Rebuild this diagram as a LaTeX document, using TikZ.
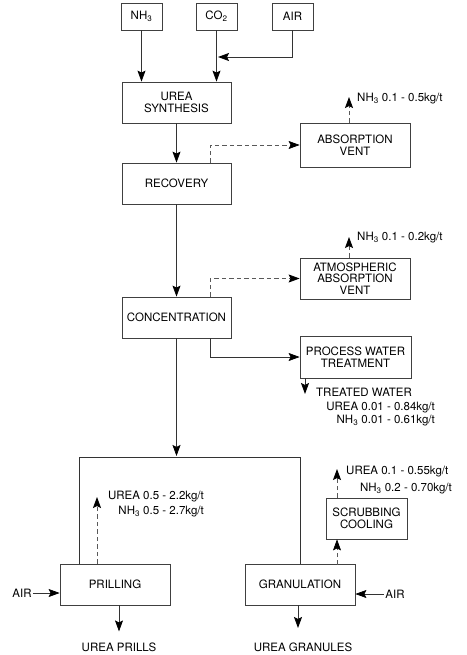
\documentclass[tikz,border=0pt]{standalone}
\usepackage{fontspec}
\setmainfont{TeX Gyre Heros}
\usetikzlibrary{arrows.meta}

\begin{document}
\begin{tikzpicture}[x=1pt, y=-1pt,
        font=\fontsize{11.5}{11.5}\selectfont,
        line/.style={draw=black!80, line width=0.75pt},
        flow/.style={line, -{Stealth[length=11pt, width=8pt, inset=2pt, black]}},
        vent/.style={flow, draw=black!65, dash pattern=on 4.5pt off 3pt},
        unit/.style={draw=black!75, line width=0.75pt, align=center, inner sep=0pt,
            minimum width=109pt, minimum height=41pt},
        feed/.style={unit, minimum width=41pt, minimum height=27pt},
        note/.style={inner sep=1pt}]
    \useasboundingbox (0,0) rectangle (466,655);
    % feeds
    \node[feed] (nh3) at (141.5,16.5) {NH\textsubscript{3}};
    \node[feed] (co2) at (216.5,16.5) {CO\textsubscript{2}};
    \node[feed] (airbox) at (292.5,16.5) {AIR};
    % main line
    \node[unit] (synth) at (176.5,102.5) {UREA\\SYNTHESIS};
    \node[unit] (recovery) at (176.5,183.5) {RECOVERY};
    \node[unit] (conc) at (176.5,317.5) {CONCENTRATION};
    % side units
    \node[unit, minimum width=110pt, minimum height=44pt] (absorb) at (355,145) {ABSORPTION\\VENT};
    \node[unit, minimum width=110pt] (atmos) at (355,278.5) {ATMOSPHERIC\\ABSORPTION\\VENT};
    \node[unit, minimum width=111pt, minimum height=42pt] (process) at (355.5,357) {PROCESS WATER\\TREATMENT};
    % finishing
    \node[unit, minimum width=110pt] (prilling) at (115,584.5) {PRILLING};
    \node[unit, minimum width=110pt] (granulation) at (300,584.5) {GRANULATION};
    \node[unit, minimum width=81pt] (scrubbing) at (366.5,518.5) {SCRUBBING\\COOLING};

    \draw[flow] (nh3.south) -- (nh3.south |- synth.north);
    \draw[flow] (co2.south) -- (co2.south |- synth.north);
    \coordinate (airjoin) at (218,57);
    \draw[flow] (airbox.south) |- (airjoin);
    \draw[flow] (synth.south) -- (recovery.north);
    \draw[flow] (recovery.south) -- (conc.north);

    % vents
    \draw[vent] ([xshift=33.5]recovery.north) |- (absorb.west);
    \coordinate (absorbout) at (349,97);
    \draw[vent] (absorb.north -| absorbout) -- (absorbout);
    \node[note, anchor=west] (absorbnote) at (356,99) {NH\textsubscript{3} 0.1 - 0.5kg/t};

    \draw[vent] ([xshift=33.5]conc.north) |- (atmos.west);
    \coordinate (atmosout) at (349,237);
    \draw[vent] (atmos.north -| atmosout) -- (atmosout);
    \node[note, anchor=west] (atmosnote) at (356,238) {NH\textsubscript{3} 0.1 - 0.2kg/t};

    % water
    \draw[flow] ([xshift=33.5]conc.south) |- (process.west);
    \coordinate (treatout) at (305,394);
    \draw[flow] (process.south -| treatout) -- (treatout);
    \node[note, anchor=west] (treated) at (315,392) {TREATED WATER};
    \node[note, anchor=east] (treaturea) at (436,408) {UREA 0.01 - 0.84kg/t};
    \node[note, anchor=east] (treatnh3) at (436,421) {NH\textsubscript{3} 0.01 - 0.61kg/t};

    % split to prilling and granulation
    \coordinate (split) at (176.5,456);
    \coordinate (splitL) at (79,457);
    \coordinate (splitR) at (300,457);
    \draw[flow] (conc.south) -- (split);
    \draw[line] (prilling.north -| splitL) -- (splitL) -- (splitR) -- (granulation.north);

    \coordinate (prillout) at (97,497);
    \draw[vent] (prilling.north -| prillout) -- (prillout);
    \node[note, anchor=east] (prillurea) at (205,497) {UREA 0.5 - 2.2kg/t};
    \node[note, anchor=east] (prillnh3) at (205,512) {NH\textsubscript{3} 0.5 - 2.7kg/t};

    \coordinate (granout) at (337,564.5);
    \draw[vent] (granout) -- (granout |- scrubbing.south);
    \coordinate (scrubout) at (337,469);
    \draw[vent] (scrubbing.north -| scrubout) -- (scrubout);
    \node[note, anchor=west] (scruburea) at (345,472) {UREA 0.1 - 0.55kg/t};
    \node[note, anchor=east] (scrubnh3) at (453,489) {NH\textsubscript{3} 0.2 - 0.70kg/t};

    % air and products
    \node[note] (airL) at (22,593) {AIR};
    \draw[flow] (airL.east) -- (airL.east -| prilling.west);
    \node[note] (airR) at (395,594) {AIR};
    \draw[flow] (airR.west) -- (airR.west -| granulation.east);

    \node[note] (prills) at (119,647) {UREA PRILLS};
    \draw[flow, shorten >=10pt] (prilling.south -| prills) -- (prills.north);
    \node[note] (granules) at (303,647) {UREA GRANULES};
    \coordinate (granin) at (298,628);
    \draw[flow] (granulation.south -| granin) -- (granin);
\end{tikzpicture}
\end{document}
